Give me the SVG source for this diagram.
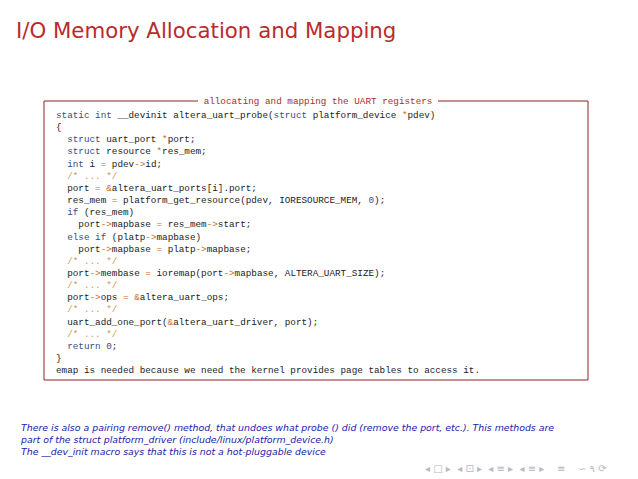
<svg xmlns="http://www.w3.org/2000/svg" width="638" height="479" viewBox="0 0 638 479">
<style>
.c text{font-family:"Liberation Mono","DejaVu Sans Mono",monospace;font-size:9.3px;fill:#222;white-space:pre}
.k{fill:#3b4a8c}.o{fill:#c8691e}.m{fill:#c89a5a}.n{fill:#3b4a8c}
.b{font-family:"DejaVu Sans","Liberation Sans",sans-serif;font-style:italic;font-size:9.4px;fill:#1a1aa8}
</style>
<rect width="638" height="479" fill="#fff"/>
<text x="16" y="38" font-family="DejaVu Sans,Liberation Sans,sans-serif" font-size="21.3" fill="#b82c2c">I/O Memory Allocation and Mapping</text>
<g id="codebox">
<path d="M198 101 H44 V380 H588 V101 H438" fill="none" stroke="#8b2020" stroke-width="1"/>
<text x="318" y="104" text-anchor="middle" font-family="Liberation Mono,monospace" font-size="9.3" fill="#b02a2a">allocating and mapping the UART registers</text>
<g class="c">
<text x="56" y="118" xml:space="preserve"><tspan class="k">static int</tspan> __devinit altera_uart_probe(<tspan class="k">struct</tspan> platform_device <tspan class="o">*</tspan>pdev)</text>
<text x="56" y="130" xml:space="preserve">{</text>
<text x="56" y="142" xml:space="preserve">  <tspan class="k">struct</tspan> uart_port <tspan class="o">*</tspan>port;</text>
<text x="56" y="154" xml:space="preserve">  <tspan class="k">struct</tspan> resource <tspan class="o">*</tspan>res_mem;</text>
<text x="56" y="167" xml:space="preserve">  <tspan class="k">int</tspan> i <tspan class="o">=</tspan> pdev<tspan class="o">-&gt;</tspan>id;</text>
<text x="56" y="179" xml:space="preserve">  <tspan class="m">/* ... */</tspan></text>
<text x="56" y="191" xml:space="preserve">  port <tspan class="o">=</tspan> <tspan class="o">&amp;</tspan>altera_uart_ports[i].port;</text>
<text x="56" y="203" xml:space="preserve">  res_mem <tspan class="o">=</tspan> platform_get_resource(pdev, IORESOURCE_MEM, <tspan class="n">0</tspan>);</text>
<text x="56" y="215" xml:space="preserve">  <tspan class="k">if</tspan> (res_mem)</text>
<text x="56" y="227" xml:space="preserve">    port<tspan class="o">-&gt;</tspan>mapbase <tspan class="o">=</tspan> res_mem<tspan class="o">-&gt;</tspan>start;</text>
<text x="56" y="240" xml:space="preserve">  <tspan class="k">else if</tspan> (platp<tspan class="o">-&gt;</tspan>mapbase)</text>
<text x="56" y="252" xml:space="preserve">    port<tspan class="o">-&gt;</tspan>mapbase <tspan class="o">=</tspan> platp<tspan class="o">-&gt;</tspan>mapbase;</text>
<text x="56" y="264" xml:space="preserve">  <tspan class="m">/* ... */</tspan></text>
<text x="56" y="276" xml:space="preserve">  port<tspan class="o">-&gt;</tspan>membase <tspan class="o">=</tspan> ioremap(port<tspan class="o">-&gt;</tspan>mapbase, ALTERA_UART_SIZE);</text>
<text x="56" y="288" xml:space="preserve">  <tspan class="m">/* ... */</tspan></text>
<text x="56" y="300" xml:space="preserve">  port<tspan class="o">-&gt;</tspan>ops <tspan class="o">=</tspan> <tspan class="o">&amp;</tspan>altera_uart_ops;</text>
<text x="56" y="312" xml:space="preserve">  <tspan class="m">/* ... */</tspan></text>
<text x="56" y="325" xml:space="preserve">  uart_add_one_port(<tspan class="o">&amp;</tspan>altera_uart_driver, port);</text>
<text x="56" y="337" xml:space="preserve">  <tspan class="m">/* ... */</tspan></text>
<text x="56" y="349" xml:space="preserve">  <tspan class="k">return</tspan> <tspan class="n">0</tspan>;</text>
<text x="56" y="361" xml:space="preserve">}</text>
<text x="56" y="373" xml:space="preserve">emap is needed because we need the kernel provides page tables to access it.</text>
</g>
</g>
<g id="notes">
<text x="21" y="431" class="b">There is also a pairing remove() method, that undoes what probe () did (remove the port, etc.). This methods are</text>
<text x="21" y="443" class="b">part of the struct platform_driver (include/linux/platform_device.h)</text>
<text x="21" y="455" class="b">The __dev_init macro says that this is not a hot-pluggable device</text>
</g>
<g id="nav" font-family="DejaVu Sans,sans-serif" font-size="10" fill="#b8b8c8">
<text x="425" y="472" xml:space="preserve">◂ □ ▸  ◂ ⊡ ▸  ◂ ≡ ▸  ◂ ≡ ▸    ≡    ∽ ۹ ⟳</text>
</g>
</svg>
